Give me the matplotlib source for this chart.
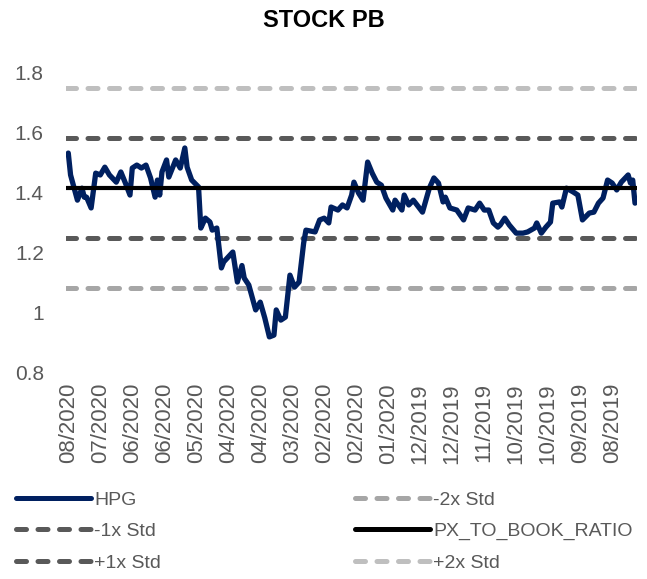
import matplotlib
matplotlib.use("Agg")
import matplotlib.pyplot as plt
from matplotlib.lines import Line2D

plt.rcParams['font.family'] = ['Liberation Sans', 'DejaVu Sans']

# trading-day index (0 = latest, Aug 2020, going back to Aug 2019)
days = [0, 1, 4, 6, 7, 8, 10, 12, 14, 16, 18, 21, 23, 25, 27, 28, 30, 32, 34, 36,
        38, 39, 40, 41, 43, 44, 47, 49, 51, 52, 54, 57, 58, 60, 62, 63, 65, 67, 68,
        72, 74, 76, 77, 79, 82, 84, 86, 88, 90, 91, 93, 95, 97, 99, 101, 103, 104,
        108, 110, 112, 114, 115, 118, 120, 122, 124, 125, 127, 129, 131, 133, 135,
        137, 139, 142, 143, 146, 147, 149, 151, 155, 158, 160, 162, 164, 165, 167,
        170, 173, 175, 178, 180, 182, 184, 186, 188, 189, 191, 193, 196, 199, 201,
        204, 205, 207, 209, 211, 212, 215, 216, 218, 221, 223, 225, 228, 230, 232,
        234, 236, 238, 240, 242, 245, 246, 247, 248]
hpg = [1.53, 1.457, 1.373, 1.413, 1.383, 1.383, 1.347, 1.463, 1.457, 1.483, 1.457,
       1.433, 1.467, 1.43, 1.39, 1.48, 1.49, 1.48, 1.49, 1.447,
       1.383, 1.44, 1.39, 1.467, 1.507, 1.45, 1.507, 1.48, 1.547, 1.483, 1.44, 1.417,
       1.28, 1.313, 1.30, 1.273, 1.28, 1.147, 1.167,
       1.20, 1.10, 1.155, 1.113, 1.09, 1.007, 1.033, 0.98, 0.917, 0.923, 1.007, 0.973,
       0.983, 1.123, 1.083, 1.10, 1.23, 1.273,
       1.267, 1.307, 1.313, 1.297, 1.35, 1.34, 1.357, 1.347, 1.39, 1.433, 1.397, 1.373,
       1.50, 1.463, 1.433, 1.423, 1.38, 1.34, 1.373, 1.34, 1.39, 1.357, 1.373, 1.333,
       1.413, 1.447, 1.43, 1.367, 1.383, 1.347,
       1.34, 1.307, 1.347, 1.34, 1.363, 1.34, 1.34, 1.297, 1.283, 1.29, 1.313, 1.29,
       1.263, 1.263, 1.267, 1.28, 1.297, 1.263, 1.283, 1.30, 1.363, 1.367, 1.35, 1.413,
       1.40, 1.39, 1.307, 1.33, 1.333, 1.363, 1.38, 1.44, 1.43, 1.407, 1.433, 1.457,
       1.43, 1.44, 1.363]

pb_mean = 1.413
pb_std = 0.167

tick_days = [0, 14, 28, 42, 56, 70, 84, 98, 112, 126, 140, 154, 168, 182, 196, 210, 224, 238]
tick_labels = ["08/2020", "07/2020", "06/2020", "06/2020", "05/2020", "04/2020",
               "04/2020", "03/2020", "02/2020", "02/2020", "01/2020", "12/2019",
               "12/2019", "11/2019", "10/2019", "10/2019", "09/2019", "08/2019"]
y_ticks = [0.8, 1.0, 1.2, 1.4, 1.6, 1.8]
y_labels = ["0.8", "1", "1.2", "1.4", "1.6", "1.8"]

fig = plt.figure(figsize=(6.47, 5.79), dpi=100)
ax = fig.add_axes([0.102, 0.3575, 0.883, 0.518])

x0, x1 = -1, 249
dash = (0, (2, 2.3))
lw_d = 3.6
c1 = '#595959'
c2m = '#A6A6A6'
c2p = '#BFBFBF'

ax.plot([x0, x1], [pb_mean - 2 * pb_std] * 2, color=c2m, lw=lw_d, ls=dash,
        dash_capstyle='round', zorder=1)
ax.plot([x0, x1], [pb_mean - pb_std] * 2, color=c1, lw=lw_d, ls=dash,
        dash_capstyle='round', zorder=1)
ax.plot([x0, x1], [pb_mean + pb_std] * 2, color=c1, lw=lw_d, ls=dash,
        dash_capstyle='round', zorder=1)
ax.plot([x0, x1], [pb_mean + 2 * pb_std] * 2, color=c2p, lw=lw_d, ls=dash,
        dash_capstyle='round', zorder=1)
ax.plot(days, hpg, color='#002060', lw=3.8, solid_joinstyle='round',
        solid_capstyle='round', zorder=2)
ax.plot([x0, x1], [pb_mean] * 2, color='black', lw=3.0, zorder=3)

ax.set_xlim(x0, x1)
ax.set_ylim(0.8, 1.8)
ax.set_yticks(y_ticks)
ax.set_yticklabels(y_labels, fontsize=15, color='#595959')
ax.set_xticks(tick_days)
ax.set_xticklabels(tick_labels, rotation=90, fontsize=16, color='#595959')
ax.tick_params(length=0)
ax.tick_params(axis='y', pad=16)
ax.tick_params(axis='x', pad=8)
for s in ax.spines.values():
    s.set_visible(False)

fig.text(0.5, 0.965, "STOCK PB", ha='center', va='center', fontsize=17,
         fontweight='bold')

handles = [
    Line2D([], [], color='#002060', lw=3.6, solid_capstyle='round'),
    Line2D([], [], color=c1, lw=lw_d, ls=dash, dash_capstyle='round'),
    Line2D([], [], color=c1, lw=lw_d, ls=dash, dash_capstyle='round'),
    Line2D([], [], color=c2m, lw=lw_d, ls=dash, dash_capstyle='round'),
    Line2D([], [], color='black', lw=3.6, solid_capstyle='round'),
    Line2D([], [], color=c2p, lw=lw_d, ls=dash, dash_capstyle='round'),
]
labels = ["HPG", "-1x Std", "+1x Std", "-2x Std", "PX_TO_BOOK_RATIO", "+2x Std"]
fig.legend(handles, labels, loc='upper left', bbox_to_anchor=(0.025, 0.152),
           ncol=2, frameon=False, fontsize=14, handlelength=3.85,
           handletextpad=0.15, labelspacing=0.72, columnspacing=10.0,
           labelcolor='#595959', borderaxespad=0, borderpad=0)

fig.savefig("out.png", dpi=100)
